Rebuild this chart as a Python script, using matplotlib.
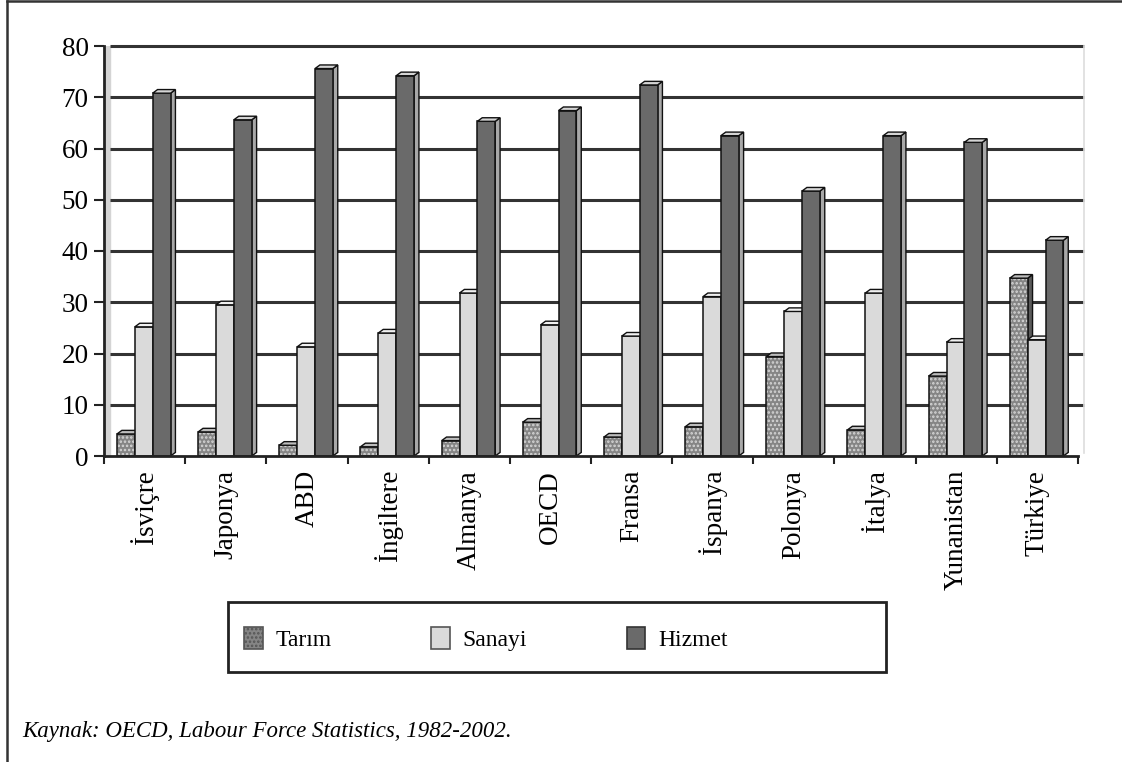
import numpy as np
import matplotlib
matplotlib.use("Agg")
import matplotlib.pyplot as plt
from matplotlib.patches import Polygon, Patch, Rectangle
from matplotlib.lines import Line2D

# ------------------------------------
# DATA (% of employment by sector)
# ------------------------------------

countries = ["İsviçre", "Japonya", "ABD", "İngiltere", "Almanya", "OECD",
             "Fransa", "İspanya", "Polonya", "İtalya", "Yunanistan", "Türkiye"]

tarim = [4.3, 4.7, 2.1, 1.8, 3.0, 6.6, 3.7, 5.7, 19.4, 5.1, 15.6, 34.7]
sanayi = [25.2, 29.5, 21.3, 24.0, 31.8, 25.6, 23.4, 31.1, 28.2, 31.8, 22.2, 22.7]
hizmet = [70.8, 65.6, 75.6, 74.2, 65.3, 67.4, 72.4, 62.5, 51.7, 62.5, 61.2, 42.1]

series_names = ["Tarım", "Sanayi", "Hizmet"]

# ------------------------------------
# STYLE
# ------------------------------------

plt.rcParams["font.family"] = ["Liberation Serif", "DejaVu Serif"]
plt.rcParams["hatch.linewidth"] = 1.2

face = ["#858585", "#dadada", "#6a6a6a"]
top_face = ["#bdbdbd", "#f0f0f0", "#d5d5d5"]
side_face = ["#5a5a5a", "#b5b5b5", "#a8a8a8"]
edge = "#111111"

bar_w = 0.22
offsets = [0.16, 0.38, 0.60]
dx, dy = 0.06, 0.7

fig = plt.figure(figsize=(11.22, 7.62), dpi=100)
ax = fig.add_axes([104 / 1122, 1 - 456 / 762, 974 / 1122, 410 / 762])

ax.set_xlim(0, len(countries))
ax.set_ylim(0, 80)

# back wall: left side band and gridlines
ax.axvspan(0, 0.08, color="#d4d4d4", zorder=0)
for g in range(10, 90, 10):
    ax.plot([0.08, 12.07], [g, g], color="#333333", lw=2.2,
            clip_on=False, zorder=1, solid_capstyle="butt")
ax.plot([12.07, 12.07], [0.6, 80], color="#dddddd", lw=1.2,
        clip_on=False, zorder=1)

# ------------------------------------
# 3D-LOOKING BARS
# ------------------------------------

values = [tarim, sanayi, hizmet]
x = np.arange(len(countries))

for i in range(len(countries)):
    for s in range(3):
        h = values[s][i]
        x0 = x[i] + offsets[s]
        x1 = x0 + bar_w
        z = 3 + i * 10 + s * 3
        side = Polygon([(x1, 0), (x1, h), (x1 + dx, h + dy), (x1 + dx, dy)],
                       closed=True, facecolor=side_face[s], edgecolor=edge,
                       lw=1.0, zorder=z)
        ax.add_patch(side)
        if s == 0:
            ax.bar(x0, h, width=bar_w, align="edge", color=face[s],
                   edgecolor="#d6d6d6", hatch="....", lw=0, zorder=z + 1)
            ax.bar(x0, h, width=bar_w, align="edge", fill=False,
                   edgecolor=edge, lw=1.1, zorder=z + 1)
        else:
            ax.bar(x0, h, width=bar_w, align="edge", color=face[s],
                   edgecolor=edge, lw=1.1, zorder=z + 1)
        top = Polygon([(x0, h), (x0 + dx, h + dy), (x1 + dx, h + dy), (x1, h)],
                      closed=True, facecolor=top_face[s], edgecolor=edge,
                      lw=1.0, zorder=z + 2)
        ax.add_patch(top)

# ------------------------------------
# AXES
# ------------------------------------

for side_name in ["top", "right"]:
    ax.spines[side_name].set_visible(False)
ax.spines["left"].set_linewidth(2.0)
ax.spines["bottom"].set_linewidth(2.0)
ax.spines["left"].set_color("#222222")
ax.spines["bottom"].set_color("#222222")
ax.spines["bottom"].set_zorder(200)

ax.set_yticks(range(0, 90, 10))
ax.tick_params(axis="y", direction="out", length=7, width=1.5,
               labelsize=19.5, pad=4, colors="#222222")
ax.tick_params(axis="y", labelcolor="black")

ax.set_xticks(x + 0.5)
ax.set_xticklabels(countries, rotation=90, fontsize=19.5)
ax.set_xticks(np.arange(len(countries) + 1), minor=True)
ax.tick_params(axis="x", which="major", length=0, pad=10)
ax.tick_params(axis="x", which="minor", direction="out", length=6,
               width=1.5, colors="#222222")

# ------------------------------------
# LEGEND
# ------------------------------------

fig.add_artist(Rectangle((228 / 1122, 1 - 672 / 762), 658 / 1122, 70 / 762,
                         transform=fig.transFigure, facecolor="white",
                         edgecolor="#222222", lw=2.0))

handles = [
    Patch(facecolor=face[0], edgecolor="#555555", hatch="....", lw=1.2),
    Patch(facecolor=face[1], edgecolor="#555555", lw=1.2),
    Patch(facecolor=face[2], edgecolor="#333333", lw=1.2),
]
leg = fig.legend(handles, series_names, loc="center left",
                 bbox_to_anchor=(232 / 1122, 1 - 639 / 762),
                 ncol=3, fontsize=17, frameon=False,
                 handlelength=0.8, handleheight=1.1,
                 handletextpad=0.55, columnspacing=4.2, borderpad=0)

# ------------------------------------
# SOURCE NOTE AND FRAME
# ------------------------------------

fig.text(22 / 1122, 1 - 731 / 762,
         "Kaynak: OECD, Labour Force Statistics, 1982-2002.",
         fontsize=16.5, style="italic", va="center", ha="left")

fig.add_artist(Line2D([7 / 1122, 7 / 1122], [0, 1 - 1 / 762],
                      color="#333333", lw=1.8))
fig.add_artist(Line2D([7 / 1122, 1], [1 - 1 / 762, 1 - 1 / 762],
                      color="#333333", lw=1.8))

fig.savefig("out.png", dpi=100)
